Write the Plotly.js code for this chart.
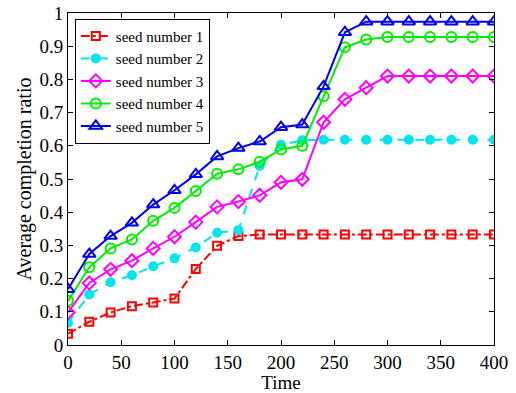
<!DOCTYPE html>
<html>
<head>
<meta charset="utf-8">
<script src="https://cdn.plot.ly/plotly-3.0.1.min.js"></script>
<style>html,body{margin:0;padding:0;background:#fff;}#chart{width:516px;height:393px;}</style>
</head>
<body>
<div id="chart"></div>
<script>
const time = [0,20,40,60,80,100,120,140,160,180,200,220,240,260,280,300,320,340,360,380,400];
const seed1 = [0.034,0.070,0.098,0.117,0.128,0.140,0.229,0.299,0.328,0.333,0.333,0.333,0.333,0.333,0.333,0.333,0.333,0.333,0.333,0.333,0.333];
const seed2 = [0.067,0.152,0.189,0.210,0.237,0.261,0.294,0.338,0.346,0.539,0.603,0.617,0.618,0.618,0.618,0.618,0.618,0.618,0.618,0.618,0.618];
const seed3 = [0.098,0.187,0.228,0.254,0.291,0.326,0.370,0.416,0.432,0.451,0.490,0.499,0.671,0.740,0.775,0.810,0.810,0.810,0.810,0.810,0.810];
const seed4 = [0.133,0.234,0.291,0.318,0.374,0.413,0.464,0.516,0.529,0.552,0.589,0.600,0.749,0.897,0.920,0.928,0.928,0.928,0.928,0.928,0.928];
const seed5 = [0.168,0.274,0.328,0.368,0.423,0.466,0.514,0.568,0.593,0.613,0.656,0.664,0.779,0.942,0.974,0.974,0.974,0.974,0.974,0.974,0.974];
const names = ['seed number 1','seed number 2','seed number 3','seed number 4','seed number 5'];
const xTicks = [0,50,100,150,200,250,300,350,400];
const yTicks = [0,0.1,0.2,0.3,0.4,0.5,0.6,0.7,0.8,0.9,1];
const yTickText = ['0','0.1','0.2','0.3','0.4','0.5','0.6','0.7','0.8','0.9','1'];

const styles = [
  {color:'#ff0000', dash:'dashdot', symbol:'square-open', size:8},
  {color:'#00e5ee', dash:'dash', symbol:'circle', size:8},
  {color:'#ff00ff', dash:'solid', symbol:'diamond-open', size:10},
  {color:'#00ee00', dash:'solid', symbol:'circle-open', size:10},
  {color:'#0000ee', dash:'solid', symbol:'triangle-up-open', size:11}
];
const series = [seed1,seed2,seed3,seed4,seed5];
const traces = series.map((s,i)=>({
  x: time, y: s, name: names[i], type:'scatter', mode:'lines+markers',
  line:{color:styles[i].color, width:2, dash:styles[i].dash},
  marker:{symbol:styles[i].symbol, size:styles[i].size, color:styles[i].color, line:{color:styles[i].color, width:2}}
}));

const serif = 'Liberation Serif, Times New Roman, serif';
const axisCommon = {
  showline:true, linecolor:'#000', linewidth:1, mirror:'ticks',
  ticks:'inside', ticklen:5, tickcolor:'#000', showgrid:false, zeroline:false, automargin:false,
  tickfont:{family:serif, size:19, color:'#000'}
};
const layout = {
  width:516, height:393,
  margin:{l:68, r:22, t:13, b:48},
  paper_bgcolor:'#fff', plot_bgcolor:'#fff',
  font:{family:serif, color:'#000'},
  xaxis: Object.assign({}, axisCommon, {range:[0,400], tickvals:xTicks,
    title:{text:'Time', font:{size:19}, standoff:0}}),
  yaxis: Object.assign({}, axisCommon, {range:[0,1], tickvals:yTicks, ticktext:yTickText,
    title:{text:'Average completion ratio', font:{size:20}, standoff:2}}),
  legend:{x:0.016, y:0.983, xanchor:'left', yanchor:'top', bgcolor:'#fff', bordercolor:'#000', borderwidth:1,
    font:{family:serif, size:15, color:'#000'}, tracegroupgap:0, itemwidth:30},
  showlegend:true
};
Plotly.newPlot('chart', traces, layout, {displayModeBar:false, staticPlot:true});
</script>
</body>
</html>
